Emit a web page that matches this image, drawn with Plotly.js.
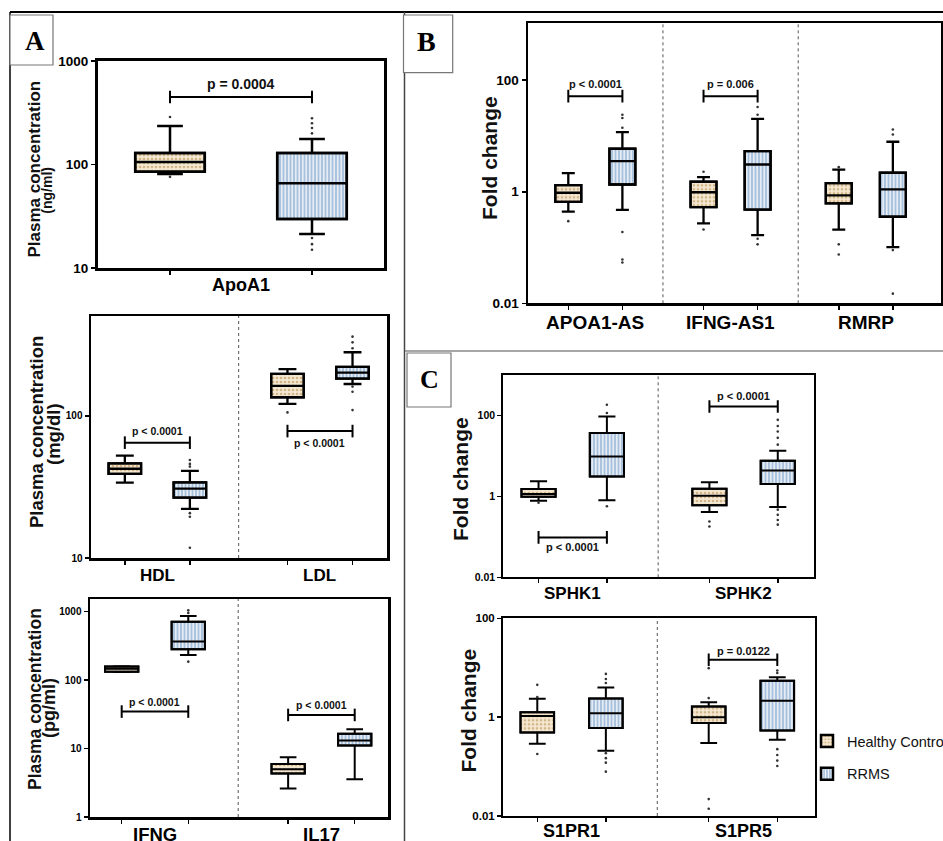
<!DOCTYPE html>
<html><head><meta charset="utf-8">
<script src="https://cdn.plot.ly/plotly-3.0.1.min.js"></script>
<style>html,body{margin:0;padding:0;background:#fff;overflow:hidden}#chart{width:943px;height:841px;overflow:hidden}</style>
</head><body><div id="chart"></div>
<script>
// ================= DATA =================
// each box: [lower whisker, Q1, median, Q3, upper whisker]
const groupNames = ['Healthy Control', 'RRMS'];

const apoCats = ['ApoA1'];
const apoHC = [[81, 85, 106, 129, 235]];
const apoRR = [[21.3, 29.7, 66, 129, 176]];
const apoHCOut = [[288, 76]];
const apoRROut = [[280, 250, 225, 200, 19.5, 17, 15]];
const apoP = [['p = 0.0004', 449, 'top']];

const lipidCats = ['HDL', 'LDL'];
const lipidHC = [[33.9, 39.1, 42.5, 46.4, 52.5], [121.5, 135.5, 163, 198, 214]];
const lipidRR = [[22.2, 26.6, 30.8, 34.1, 41.0], [168, 183, 202, 222, 281]];
const lipidHCOut = [[], [106]];
const lipidRROut = [[49, 46, 44, 20.7, 19.5, 11.8], [362, 330, 300, 161, 148, 110]];
const lipidP = [['p < 0.0001', 64.9, 'top'], ['p < 0.0001', 78.3, 'bottom']];

const cytoCats = ['IFNG', 'IL17'];
const cytoHC = [[131, 132, 146, 158, 160], [2.6, 4.31, 5.0, 5.97, 7.48]];
const cytoRR = [[233, 282, 365, 714, 865], [3.57, 11.1, 13.1, 16.4, 19.2]];
const cytoHCOut = [[], []];
const cytoRROut = [[1050, 960, 186], []];
const cytoP = [['p < 0.0001', 34.7, 'top'], ['p < 0.0001', 31, 'top']];

const lncCats = ['APOA1-AS', 'IFNG-AS1', 'RMRP'];
const lncHC = [[0.44, 0.66, 0.96, 1.31, 2.15], [0.27, 0.53, 0.98, 1.51, 1.83], [0.21, 0.62, 0.86, 1.43, 2.5]];
const lncRR = [[0.475, 1.35, 3.53, 5.9, 11.7], [0.167, 0.48, 3.08, 5.35, 20.3], [0.102, 0.356, 1.1, 2.19, 7.87]];
const lncHCOut = [[0.297], [2.28, 0.21], [2.76, 0.114, 0.075]];
const lncRROut = [[24, 21, 14, 0.19, 0.061, 0.054], [33, 24, 0.144, 0.114], [13.1, 10.6, 0.09, 0.0149]];
const lncP = [['p < 0.0001', 51.7, 'top'], ['p = 0.006', 51.7, 'top'], null];

const sphkCats = ['SPHK1', 'SPHK2'];
const sphkHC = [[0.78, 0.98, 1.15, 1.52, 2.35], [0.41, 0.6, 1.04, 1.55, 2.22]];
const sphkRR = [[0.8, 3.12, 9.7, 36.7, 94], [0.55, 2.02, 4.38, 7.6, 13.4]];
const sphkHCOut = [[0.70], [0.24, 0.18]];
const sphkRROut = [[184, 115, 0.57], [78, 55, 40, 28, 19, 0.47, 0.35, 0.26, 0.2]];
const sphkP = [['p < 0.0001', 0.097, 'bottom'], ['p < 0.0001', 167, 'top']];

const s1prCats = ['S1PR1', 'S1PR5'];
const s1prHC = [[0.29, 0.49, 1.06, 1.26, 2.35], [0.3, 0.76, 1.0, 1.64, 2.01]];
const s1prRR = [[0.208, 0.6, 1.2, 2.38, 3.97], [0.347, 0.54, 2.14, 5.43, 6.45]];
const s1prHCOut = [[4.5, 2.54, 0.18], [9.8, 2.43, 0.022, 0.014]];
const s1prRROut = [[7.5, 5.9, 4.9, 0.187, 0.148, 0.12, 0.079], [8.8, 7.8, 0.225, 0.172, 0.132, 0.103]];
const s1prP = [null, ['p = 0.0122', 14.5, 'top']];

const tickA1 = [10, 100, 1000];
const tickA2 = [10, 100];
const tickA3 = [1, 10, 100, 1000];
const tickFold = [0.01, 1, 100];

// ================= LAYOUT HELPERS =================
const W = 943, H = 841;
const fx = p => p / W, fy = p => 1 - p / H;
const FONT = 'Liberation Sans, Arial, sans-serif';

const HC_STYLE = {color: '#f1e1c5', pattern: {shape: '.', fgcolor: '#d2b68a', bgcolor: '#f5e8d2', size: 4, solidity: 0.35}};
const RR_STYLE = {color: '#b4cae1', pattern: {shape: '|', fgcolor: '#f4f7fb', bgcolor: '#a7c0db', size: 3.5, solidity: 0.4}};

const panels = [
  {cats: apoCats, hc: apoHC, rr: apoRR, hcOut: apoHCOut, rrOut: apoRROut, p: apoP,
   px: [98, 384], py: [61, 268], xr: [-0.507, 1.507], yr: [1, 3], ticks: tickA1, tfs: 13.5,
   bw: 0.49, ww: 0.37, alw: 3, blw: 2.5, labY: 285, labFs: 18, pfs: 14, pShift: 13},
  {cats: lipidCats, hc: lipidHC, rr: lipidRR, hcOut: lipidHCOut, rrOut: lipidRROut, p: lipidP,
   px: [91, 387], py: [316, 558], xr: [-0.52, 4.03], yr: [1, 2.704], ticks: tickA2, tfs: 10,
   bw: 0.5, ww: 0.55, alw: 2.5, blw: 2.3, labY: 575, labFs: 17, pfs: 10.5, pShift: 12},
  {cats: cytoCats, hc: cytoHC, rr: cytoRR, hcOut: cytoHCOut, rrOut: cytoRROut, p: cytoP,
   px: [90, 388], py: [599, 817], xr: [-0.476, 4.0], yr: [0, 3.185], ticks: tickA3, tfs: 10,
   bw: 0.5, ww: 0.5, alw: 2.5, blw: 2, labY: 834, labFs: 18.5, pfs: 10.5, pShift: 10},
  {cats: lncCats, hc: lncHC, rr: lncRR, hcOut: lncHCOut, rrOut: lncRROut, p: lncP,
   px: [528, 941], py: [23.3, 303.3], xr: [-0.745, 6.89], yr: [-2, 3.02], ticks: tickFold, tfs: 13.5,
   bw: 0.48, ww: 0.5, alw: 2.5, blw: 2.3, labY: 322, labFs: 19, pfs: 11, pShift: 12},
  {cats: sphkCats, hc: sphkHC, rr: sphkRR, hcOut: sphkHCOut, rrOut: sphkRROut, p: sphkP,
   px: [503, 814], py: [375, 577.3], xr: [-0.52, 4.03], yr: [-2, 3.0], ticks: tickFold, tfs: 10.5,
   bw: 0.5, ww: 0.5, alw: 1.8, blw: 2, labY: 593, labFs: 17, pfs: 11, pShift: 10},
  {cats: s1prCats, hc: s1prHC, rr: s1prRR, hcOut: s1prHCOut, rrOut: s1prRROut, p: s1prP,
   px: [503, 815], py: [618.3, 816], xr: [-0.5, 4.05], yr: [-2, 2], ticks: tickFold, tfs: 11.5,
   bw: 0.49, ww: 0.5, alw: 2, blw: 2, labY: 831, labFs: 18, pfs: 11, pShift: 9}
];

const traces = [], shapes = [], annotations = [];
const layout = {
  width: W, height: H, margin: {l: 0, r: 0, t: 0, b: 0, autoexpand: false},
  paper_bgcolor: '#fff', plot_bgcolor: '#fff',
  barmode: 'overlay', boxmode: 'overlay', showlegend: true,
  legend: {x: fx(807), y: fy(725), xanchor: 'left', yanchor: 'top', bgcolor: 'rgba(0,0,0,0)',
           font: {family: 'Liberation Sans, Arial', size: 14.5, color: '#111'},
           tracegroupgap: 11},
  font: {family: FONT, color: '#000'},
  shapes, annotations
};

panels.forEach((P, k) => {
  const sfx = k === 0 ? '' : String(k + 1);
  const xa = 'x' + sfx, ya = 'y' + sfx;
  const hcPos = P.cats.map((c, i) => i * 2.5);
  const rrPos = hcPos.map(v => v + 1);
  const sets = [
    [P.hc, hcPos, HC_STYLE, groupNames[0], 'hc', P.hcOut],
    [P.rr, rrPos, RR_STYLE, groupNames[1], 'rr', P.rrOut]
  ];
  sets.forEach(([st, pos, sty, name, grp, outs]) => {
    traces.push({type: 'bar', xaxis: xa, yaxis: ya, x: pos,
      base: st.map(s => s[1]), y: st.map(s => s[3] - s[1]), width: P.bw,
      marker: {color: sty.color, pattern: sty.pattern, line: {color: '#000', width: P.blw}},
      name, legendgroup: grp, showlegend: k === 0, hoverinfo: 'skip'});
    traces.push({type: 'box', xaxis: xa, yaxis: ya, x: pos,
      lowerfence: st.map(s => s[0]), q1: st.map(s => s[1]), median: st.map(s => s[2]),
      q3: st.map(s => s[3]), upperfence: st.map(s => s[4]),
      width: P.bw, whiskerwidth: P.ww, fillcolor: 'rgba(0,0,0,0)',
      line: {color: '#000', width: P.blw}, boxpoints: false, showlegend: false, hoverinfo: 'skip'});
    const ox = [], oy = [];
    outs.forEach((arr, i) => arr.forEach(v => { ox.push(pos[i]); oy.push(v); }));
    traces.push({type: 'scatter', mode: 'markers', xaxis: xa, yaxis: ya, x: ox, y: oy,
      marker: {size: 2.6, color: '#333'}, showlegend: false, hoverinfo: 'skip'});
  });
  // significance bars
  P.p.forEach((pp, i) => {
    if (!pp) return;
    traces.push({type: 'scatter', mode: 'lines+markers', xaxis: xa, yaxis: ya,
      x: [hcPos[i], rrPos[i]], y: [pp[1], pp[1]],
      line: {color: '#000', width: 2},
      marker: {symbol: 'line-ns-open', size: 9, line: {color: '#000', width: 2}},
      showlegend: false, hoverinfo: 'skip'});
    annotations.push({xref: xa, yref: ya, x: (hcPos[i] + rrPos[i]) / 2, y: Math.log10(pp[1]),
      text: pp[0], showarrow: false, yshift: pp[2] === 'top' ? P.pShift : -P.pShift,
      font: {family: FONT, size: P.pfs, weight: 'bold', color: '#111'}});
  });
  // dotted dividers and group labels
  P.cats.forEach((c, i) => {
    if (i < P.cats.length - 1) {
      shapes.push({type: 'line', xref: xa, yref: ya + ' domain', x0: hcPos[i] + 1.75, x1: hcPos[i] + 1.75,
        y0: 0, y1: 1, line: {color: '#555', width: 1, dash: 'dot'}, layer: 'below'});
    }
    annotations.push({xref: xa, yref: 'paper', x: hcPos[i] + 0.5, y: fy(P.labY), yanchor: 'middle',
      text: c, showarrow: false, font: {family: FONT, size: P.labFs, weight: 'bold', color: '#000'}});
  });
  layout['xaxis' + sfx] = {domain: [fx(P.px[0]), fx(P.px[1])], anchor: ya, range: P.xr,
    showline: true, mirror: true, linecolor: '#000', linewidth: P.alw,
    tickvals: hcPos.concat(rrPos), showticklabels: false, ticks: 'outside', ticklen: 4, tickwidth: 1.5,
    tickcolor: '#000', showgrid: false, zeroline: false, fixedrange: true};
  layout['yaxis' + sfx] = {domain: [fy(P.py[1]), fy(P.py[0])], anchor: xa, type: 'log', range: P.yr,
    showline: true, mirror: true, linecolor: '#000', linewidth: P.alw,
    tickvals: P.ticks, ticktext: P.ticks.map(String), ticks: 'outside', ticklen: 4, tickwidth: 1.5,
    tickcolor: '#000', tickfont: {family: FONT, size: P.tfs, weight: 'bold', color: '#000'},
    showgrid: false, zeroline: false, fixedrange: true};
});

// y-axis titles
const yTitles = [
  ['Plasma concentration', 33.5, 169, 17], ['(ng/ml)', 46.7, 190, 14],
  ['Plasma concentration', 36, 432, 18.5], ['(mg/dl)', 53, 434, 18.5],
  ['Plasma concentration', 35, 699, 17.5], ['(pg/ml)', 49, 708, 18],
  ['Fold change', 489, 158, 21], ['Fold change', 460, 479, 21], ['Fold change', 467.5, 711, 21]
];
yTitles.forEach(t => annotations.push({xref: 'paper', yref: 'paper', x: fx(t[1]), y: fy(t[2]),
  xanchor: 'center', yanchor: 'middle', textangle: -90, text: t[0], showarrow: false,
  font: {family: FONT, size: t[3], weight: 'bold', color: '#111'}}));

// figure frame
const line = (x0, y0, x1, y1, c, w) => shapes.push({type: 'line', xref: 'paper', yref: 'paper',
  x0: fx(x0), y0: fy(y0), x1: fx(x1), y1: fy(y1), line: {color: c, width: w}});
line(10, 12, 943, 12, '#000', 2);
line(10, 12, 10, 841, '#000', 1.5);
line(404.5, 12, 404.5, 841, '#444', 1.5);
line(405, 351, 943, 351, '#888', 1.5);

// panel letters
[['A', 10, 15, 53, 65, 35, 41, 27], ['B', 403.5, 15, 452.7, 72.7, 426, 41, 28], ['C', 407, 353, 451, 407, 429, 379, 26]]
  .forEach(b => {
    shapes.push({type: 'rect', xref: 'paper', yref: 'paper', x0: fx(b[1]), y0: fy(b[2]), x1: fx(b[3]), y1: fy(b[4]),
      line: {color: '#777', width: 1.2}, fillcolor: '#fff'});
    annotations.push({xref: 'paper', yref: 'paper', x: fx(b[5]), y: fy(b[6]), xanchor: 'center', yanchor: 'middle',
      text: b[0], showarrow: false, font: {family: 'Liberation Serif, Times New Roman, serif', size: b[7], weight: 'bold', color: '#000'}});
  });

Plotly.newPlot('chart', traces, layout, {staticPlot: true, displayModeBar: false});
</script></body></html>
